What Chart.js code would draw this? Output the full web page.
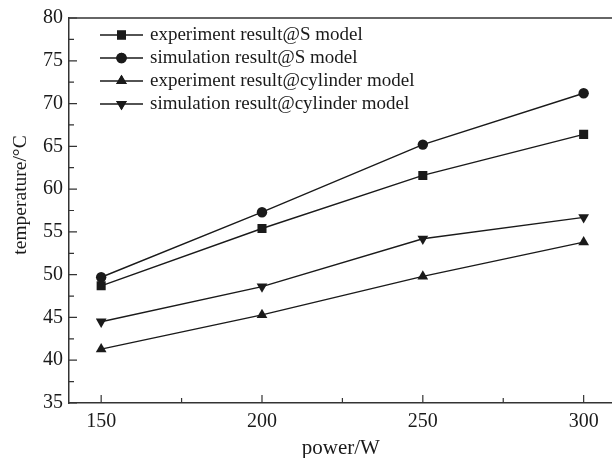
<!DOCTYPE html>
<html>
<head>
<meta charset="utf-8">
<script src="https://cdn.jsdelivr.net/npm/chart.js@4.4.1/dist/chart.umd.min.js"></script>
<style>
  html, body { margin: 0; padding: 0; background: #fff; overflow: hidden; }
  #wrap { width: 612px; height: 458px; overflow: hidden; }
</style>
</head>
<body>
<div id="wrap"><canvas id="myChart" width="619" height="458"></canvas></div>
<script>
// values
var power = [150, 200, 250, 300];
var expS = [48.7, 55.4, 61.6, 66.4];
var simS = [49.7, 57.3, 65.2, 71.2];
var expCyl = [41.3, 45.3, 49.8, 53.8];
var simCyl = [44.5, 48.6, 54.2, 56.7];

var xTicks = [150, 200, 250, 300];
var yTicks = [35, 40, 45, 50, 55, 60, 65, 70, 75, 80];

var seriesNames = [
  'experiment result@S model',
  'simulation result@S model',
  'experiment result@cylinder model',
  'simulation result@cylinder model'
];

var ink = '#1a1a1a';
var serif = 'Liberation Serif';

function toPoints(vals) {
  return power.map(function (p, i) { return { x: p, y: vals[i] }; });
}

function makeSet(label, vals, style, radius, rotation) {
  return {
    label: label,
    data: toPoints(vals),
    borderColor: ink,
    backgroundColor: ink,
    borderWidth: 1.4,
    pointStyle: style,
    pointRadius: radius,
    pointRotation: rotation,
    pointBorderWidth: 0,
    pointBackgroundColor: ink,
    tension: 0
  };
}

var data = {
  datasets: [
    makeSet(seriesNames[0], expS, 'rect', 6.4, 0),
    makeSet(seriesNames[1], simS, 'circle', 5.2, 0),
    makeSet(seriesNames[2], expCyl, 'triangle', 6.2, 0),
    makeSet(seriesNames[3], simCyl, 'triangle', 6.2, 180)
  ]
};

/* frame on top, inward ticks, y title and the legend */
var framePlugin = {
  id: 'frame',
  afterDraw: function (chart) {
    var ctx = chart.ctx;
    var a = chart.chartArea;
    var xs = chart.scales.x;
    var ys = chart.scales.y;
    ctx.save();
    ctx.strokeStyle = '#333';
    ctx.lineWidth = 1.5;
    ctx.beginPath();
    ctx.moveTo(a.left, a.top);
    ctx.lineTo(a.right, a.top);
    ctx.stroke();

    ctx.lineWidth = 1.2;
    ctx.beginPath();
    for (var v = 150; v <= 300; v += 25) {
      var px = xs.getPixelForValue(v);
      var len = (v % 50 === 0) ? 8 : 5;
      ctx.moveTo(px, a.bottom);
      ctx.lineTo(px, a.bottom - len);
    }
    for (var t = 35; t <= 80; t += 2.5) {
      var py = ys.getPixelForValue(t);
      var l2 = (t % 5 === 0) ? 8 : 5;
      ctx.moveTo(a.left, py);
      ctx.lineTo(a.left + l2, py);
    }
    ctx.stroke();

    // y axis title, sits a bit above the axis middle in the reference
    ctx.fillStyle = ink;
    ctx.font = '19.5px "' + serif + '"';
    ctx.textAlign = 'center';
    ctx.textBaseline = 'middle';
    ctx.translate(21, 195);
    ctx.rotate(-Math.PI / 2);
    ctx.fillText('temperature/°C', 0, 0);
    ctx.setTransform(1, 0, 0, 1, 0, 0);

    // legend
    var rowY = [35, 58, 81, 104];
    chart.data.datasets.forEach(function (ds, i) {
      var y = rowY[i];
      ctx.strokeStyle = ink;
      ctx.lineWidth = 1.4;
      ctx.beginPath();
      ctx.moveTo(100, y);
      ctx.lineTo(143, y);
      ctx.stroke();
      ctx.fillStyle = ink;
      Chart.helpers.drawPoint(ctx, {
        pointStyle: ds.pointStyle,
        radius: ds.pointRadius,
        rotation: ds.pointRotation,
        borderWidth: 0
      }, 121.5, y);
      ctx.fill();
      ctx.font = '19px "' + serif + '"';
      ctx.textBaseline = 'middle';
      ctx.textAlign = 'left';
      ctx.fillText(ds.label, 150, y);
    });
    ctx.restore();
  }
};

const config = {
  type: 'line',
  data: data,
  options: {
    responsive: false,
    animation: false,
    layout: {
      padding: { top: 13, right: 0, left: 0, bottom: 0 }
    },
    plugins: {
      legend: { display: false },
      tooltip: { enabled: false }
    },
    scales: {
      x: {
        type: 'linear',
        min: 140,
        max: 309,
        afterBuildTicks: function (scale) {
          scale.ticks = xTicks.map(function (v) { return { value: v }; });
        },
        afterFit: function (scale) { scale.height = 55; },
        grid: { display: false, drawTicks: false },
        border: { display: true, color: '#333', width: 1.5 },
        ticks: {
          color: ink,
          padding: 7,
          maxRotation: 0,
          font: { family: serif, size: 20 }
        },
        title: {
          display: true,
          text: 'power/W',
          color: ink,
          padding: { top: 0, bottom: -3 },
          font: { family: serif, size: 21 }
        }
      },
      y: {
        min: 35,
        max: 80,
        afterBuildTicks: function (scale) {
          scale.ticks = yTicks.map(function (v) { return { value: v }; });
        },
        afterFit: function (scale) { scale.width = 69; },
        grid: { display: false, drawTicks: false },
        border: { display: true, color: '#333', width: 1.5 },
        ticks: {
          color: ink,
          padding: 6,
          font: { family: serif, size: 20 }
        },
        title: { display: false }
      }
    }
  },
  plugins: [framePlugin]
};

var myChart = new Chart(document.getElementById('myChart'), config);
</script>
</body>
</html>
